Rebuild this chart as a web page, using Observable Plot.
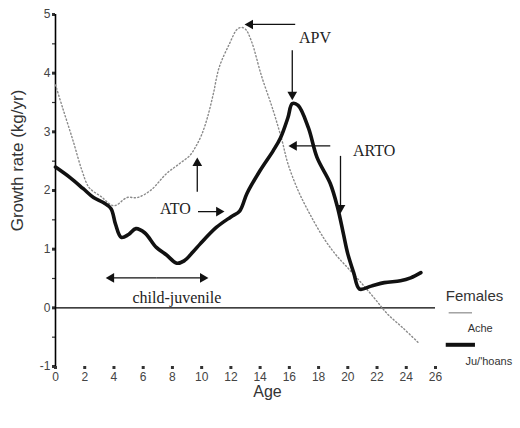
<!DOCTYPE html>
<html>
<head>
<meta charset="utf-8">
<script src="https://cdn.jsdelivr.net/npm/d3@7"></script>
<script src="https://cdn.jsdelivr.net/npm/@observablehq/plot@0.6"></script>
<style>
  html, body { margin: 0; padding: 0; background: #fff; }
</style>
</head>
<body>
<div id="chart"></div>
<script>
// ---- Data ----
const acheAge  = [0, 0.5, 1.2, 1.8, 2.3, 3.1, 4.0, 4.9, 5.6, 6.5, 7.6, 8.5, 9.2, 9.6, 10.0, 10.4, 10.8, 11.2, 11.9, 12.4, 12.7, 13.0, 13.4, 14.1, 14.9, 15.5, 15.9, 16.6, 17.4, 18.4, 19.2, 20.0, 20.8, 21.8, 22.7, 23.8, 24.9];
const acheRate = [3.8, 3.4, 2.85, 2.35, 2.05, 1.9, 1.74, 1.88, 1.88, 2.0, 2.29, 2.46, 2.6, 2.75, 2.95, 3.25, 3.65, 4.1, 4.5, 4.74, 4.78, 4.75, 4.55, 3.95, 3.36, 2.85, 2.46, 2.0, 1.6, 1.17, 0.9, 0.68, 0.46, 0.17, -0.1, -0.35, -0.61];

const juAge  = [0, 1.0, 1.9, 2.6, 3.3, 3.8, 4.1, 4.5, 5.0, 5.5, 6.1, 6.9, 7.6, 8.3, 8.8, 9.4, 9.9, 11.0, 12.0, 12.6, 13.1, 14.0, 14.9, 15.4, 15.9, 16.2, 16.6, 17.3, 17.9, 18.8, 19.3, 19.7, 20.0, 20.4, 20.8, 21.6, 22.5, 23.6, 24.3, 25.0];
const juRate = [2.4, 2.22, 2.03, 1.88, 1.79, 1.69, 1.43, 1.2, 1.25, 1.35, 1.28, 1.03, 0.9, 0.76, 0.8, 0.95, 1.09, 1.37, 1.55, 1.65, 1.95, 2.34, 2.68, 2.9, 3.24, 3.48, 3.45, 3.07, 2.56, 2.12, 1.71, 1.26, 0.92, 0.6, 0.32, 0.37, 0.43, 0.46, 0.51, 0.6];

const xTicks = [0, 2, 4, 6, 8, 10, 12, 14, 16, 18, 20, 22, 24, 26];
const yTicks = [-1, 0, 1, 2, 3, 4, 5];
const yMinorTicks = [-0.5, 0.5, 1.5, 2.5, 3.5, 4.5];

// annotation labels and the arrows that point to the curves
const labels = [
  {text: "APV", x: 17.75, y: 4.6},
  {text: "ARTO", x: 21.8, y: 2.68},
  {text: "ATO", x: 8.2, y: 1.69},
  {text: "child-juvenile", x: 8.3, y: 0.17}
];
const arrows = [
  {x1: 16.4, y1: 4.83, x2: 13.1, y2: 4.83},
  {x1: 16.2, y1: 4.39, x2: 16.2, y2: 3.58},
  {x1: 18.8, y1: 2.76, x2: 16.1, y2: 2.76},
  {x1: 19.5, y1: 2.59, x2: 19.5, y2: 1.65},
  {x1: 9.75, y1: 1.64, x2: 11.4, y2: 1.64},
  {x1: 9.7, y1: 1.98, x2: 9.7, y2: 2.52},
  {x1: 6.9, y1: 0.51, x2: 3.6, y2: 0.51},
  {x1: 6.9, y1: 0.51, x2: 10.3, y2: 0.51}
];

const yTitle = "Growth rate (kg/yr)";
const xTitle = "Age";
const legendTitle = "Females";
const seriesNames = ["Ache", "Ju/'hoans"];

// ---- Build tables ----
const ache = acheAge.map((a, i) => ({age: a, rate: acheRate[i]}));
const ju = juAge.map((a, i) => ({age: a, rate: juRate[i]}));

// arrow heads: a triangle placed just behind the tip, rotated along the arrow
const heads = arrows.map(d => {
  const dx = d.x2 - d.x1, dy = d.y2 - d.y1;
  const horiz = Math.abs(dx) > 0;
  const back = horiz ? 0.22 * Math.sign(dx) : 0.055 * Math.sign(dy);
  let rot;
  if (horiz) rot = dx > 0 ? 90 : -90;
  else rot = dy > 0 ? 0 : 180;
  return {
    x: horiz ? d.x2 - back : d.x2,
    y: horiz ? d.y2 : d.y2 - back,
    rot
  };
});

const legendLines = [
  {name: seriesNames[0], x1: 26.9, x2: 28.5, y: -0.085},
  {name: seriesNames[1], x1: 26.7, x2: 28.7, y: -0.63}
];
const legendTexts = [
  {t: seriesNames[0], x: 28.2, y: -0.36},
  {t: seriesNames[1], x: 28.05, y: -0.92}
];

const chart = Plot.plot({
  width: 520,
  height: 428,
  marginLeft: 55,
  marginRight: 85,
  marginTop: 14,
  marginBottom: 62,
  x: {domain: [0, 26]},
  y: {domain: [-1, 5]},
  style: {fontFamily: "'Liberation Sans', Arial, sans-serif", fontSize: "12px", color: "#333", background: "#fff"},
  marks: [
    // y axis: integer ticks with labels, half ticks without
    Plot.axisY({ticks: yTicks, tickFormat: d => String(d), tickSize: 3, tickPadding: 2, strokeWidth: 3, label: null, fill: "#444"}),
    Plot.axisY({ticks: yMinorTicks, tickSize: 3, tickFormat: () => "", strokeWidth: 1.2, label: null}),
    // x axis ticks (no base line)
    Plot.axisX({ticks: xTicks, tickFormat: d => String(d), tickSize: 3, tickPadding: 3, strokeWidth: 3, label: null, fill: "#444"}),
    Plot.ruleX([0], {y1: -1, y2: 5, stroke: "#000", strokeWidth: 1.6}),
    Plot.ruleY([0], {x1: 0, x2: 26, stroke: "#000", strokeWidth: 1.2}),
    // axis titles
    Plot.text([yTitle], {frameAnchor: "left", textAnchor: "middle", rotate: -90, dx: -38, dy: -30, fontSize: 17, fill: "#333"}),
    Plot.text([xTitle], {frameAnchor: "bottom", textAnchor: "middle", dy: 30, dx: 22, fontSize: 16, fill: "#333"}),
    // series
    Plot.line(ache, {x: "age", y: "rate", stroke: "#8a8a8a", strokeWidth: 1.4, strokeDasharray: "1.2,2.4", curve: "catmull-rom"}),
    Plot.line(ju, {x: "age", y: "rate", stroke: "#111", strokeWidth: 3.6, curve: "catmull-rom"}),
    // annotations
    Plot.link(arrows, {x1: "x1", y1: "y1", x2: "x2", y2: "y2", stroke: "#111", strokeWidth: 1.3}),
    Plot.dot(heads, {x: "x", y: "y", symbol: "triangle", r: 3.6, rotate: "rot", fill: "#111", stroke: "none"}),
    Plot.text(labels, {x: "x", y: "y", text: "text", fontFamily: "'Liberation Serif', 'Times New Roman', serif", fontSize: 16, fill: "#222"}),
    // legend
    Plot.text([legendTitle], {x: 26.7, y: 0.19, textAnchor: "start", fontSize: 15, fill: "#333"}),
    Plot.link(legendLines, {x1: "x1", x2: "x2", y1: "y", y2: "y",
      stroke: d => d.name, strokeWidth: d => d.name === seriesNames[0] ? 1.2 : 4,
      strokeDasharray: d => d.name === seriesNames[0] ? "1,2.5" : null}),
    Plot.text(legendTexts, {x: "x", y: "y", text: "t", textAnchor: "start", fontSize: 11, fill: "#333"})
  ],
  color: {domain: seriesNames, range: ["#8a8a8a", "#111"]}
});

document.getElementById("chart").appendChild(chart);
</script>
</body>
</html>
